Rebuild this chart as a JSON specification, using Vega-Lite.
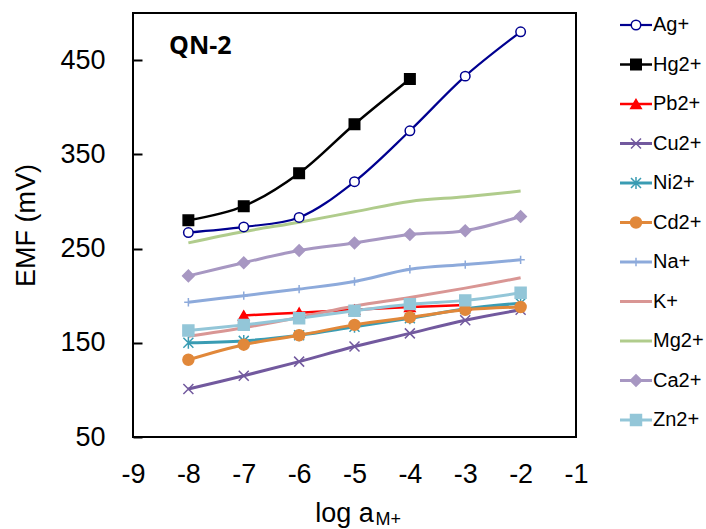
{
  "$schema": "https://vega.github.io/schema/vega-lite/v6.json",
  "background": "white",
  "padding": {"left": 11, "top": 12, "right": 0, "bottom": 0},
  "config": {"view": {"stroke": null}, "font": "Liberation Sans"},
  "datasets": {
    "d": [
      {"s": "Ag+", "x": -8, "y": 267}, {"s": "Ag+", "x": -7, "y": 273}, {"s": "Ag+", "x": -6, "y": 283}, {"s": "Ag+", "x": -5, "y": 321}, {"s": "Ag+", "x": -4, "y": 375}, {"s": "Ag+", "x": -3, "y": 433}, {"s": "Ag+", "x": -2, "y": 480},
      {"s": "Hg2+", "x": -8, "y": 280}, {"s": "Hg2+", "x": -7, "y": 295}, {"s": "Hg2+", "x": -6, "y": 330}, {"s": "Hg2+", "x": -5, "y": 382}, {"s": "Hg2+", "x": -4, "y": 430},
      {"s": "Pb2+", "x": -7, "y": 179}, {"s": "Pb2+", "x": -6, "y": 182}, {"s": "Pb2+", "x": -5, "y": 185}, {"s": "Pb2+", "x": -4, "y": 188}, {"s": "Pb2+", "x": -3, "y": 190},
      {"s": "Cu2+", "x": -8, "y": 101}, {"s": "Cu2+", "x": -7, "y": 115}, {"s": "Cu2+", "x": -6, "y": 130}, {"s": "Cu2+", "x": -5, "y": 146}, {"s": "Cu2+", "x": -4, "y": 160}, {"s": "Cu2+", "x": -3, "y": 174}, {"s": "Cu2+", "x": -2, "y": 185},
      {"s": "Ni2+", "x": -8, "y": 150}, {"s": "Ni2+", "x": -7, "y": 152}, {"s": "Ni2+", "x": -6, "y": 158}, {"s": "Ni2+", "x": -5, "y": 167}, {"s": "Ni2+", "x": -4, "y": 176}, {"s": "Ni2+", "x": -3, "y": 186}, {"s": "Ni2+", "x": -2, "y": 192},
      {"s": "Cd2+", "x": -8, "y": 132}, {"s": "Cd2+", "x": -7, "y": 148}, {"s": "Cd2+", "x": -6, "y": 158}, {"s": "Cd2+", "x": -5, "y": 169}, {"s": "Cd2+", "x": -4, "y": 177}, {"s": "Cd2+", "x": -3, "y": 185}, {"s": "Cd2+", "x": -2, "y": 188},
      {"s": "Na+", "x": -8, "y": 193}, {"s": "Na+", "x": -7, "y": 200}, {"s": "Na+", "x": -6, "y": 207}, {"s": "Na+", "x": -5, "y": 215}, {"s": "Na+", "x": -4, "y": 228}, {"s": "Na+", "x": -3, "y": 233}, {"s": "Na+", "x": -2, "y": 238},
      {"s": "K+", "x": -8, "y": 157}, {"s": "K+", "x": -7, "y": 166}, {"s": "K+", "x": -6, "y": 177}, {"s": "K+", "x": -5, "y": 189}, {"s": "K+", "x": -4, "y": 198}, {"s": "K+", "x": -3, "y": 208}, {"s": "K+", "x": -2, "y": 219},
      {"s": "Mg2+", "x": -8, "y": 256}, {"s": "Mg2+", "x": -7, "y": 268}, {"s": "Mg2+", "x": -6, "y": 278}, {"s": "Mg2+", "x": -5, "y": 289}, {"s": "Mg2+", "x": -4, "y": 300}, {"s": "Mg2+", "x": -3, "y": 305}, {"s": "Mg2+", "x": -2, "y": 311},
      {"s": "Ca2+", "x": -8, "y": 221}, {"s": "Ca2+", "x": -7, "y": 235}, {"s": "Ca2+", "x": -6, "y": 248}, {"s": "Ca2+", "x": -5, "y": 256}, {"s": "Ca2+", "x": -4, "y": 265}, {"s": "Ca2+", "x": -3, "y": 269}, {"s": "Ca2+", "x": -2, "y": 284},
      {"s": "Zn2+", "x": -8, "y": 163}, {"s": "Zn2+", "x": -7, "y": 169}, {"s": "Zn2+", "x": -6, "y": 176}, {"s": "Zn2+", "x": -5, "y": 184}, {"s": "Zn2+", "x": -4, "y": 191}, {"s": "Zn2+", "x": -3, "y": 195}, {"s": "Zn2+", "x": -2, "y": 203}
    ],
    "leg": [
      {"s": "Ag+"}, {"s": "Hg2+"}, {"s": "Pb2+"}, {"s": "Cu2+"}, {"s": "Ni2+"}, {"s": "Cd2+"}, {"s": "Na+"}, {"s": "K+"}, {"s": "Mg2+"}, {"s": "Ca2+"}, {"s": "Zn2+"}
    ]
  },
  "spacing": 8,
  "hconcat": [
    {
      "width": 443,
      "height": 424,
      "view": {"stroke": "black", "strokeWidth": 2},
      "layer": [
        {
          "data": {"name": "d"},
          "mark": {"type": "line", "interpolate": "catmull-rom"},
          "encoding": {
            "x": {"field": "x", "type": "quantitative",
              "scale": {"domain": [-9, -1], "nice": false, "zero": false},
              "axis": {"values": [-9, -8, -7, -6, -5, -4, -3, -2, -1], "labelExpr": "'' + datum.value", "ticks": false, "domain": false, "grid": false, "labelFlush": false, "labelOverlap": false, "labelFontSize": 27, "labelColor": "black", "labelPadding": 24, "title": "log a", "titleFontSize": 27, "titleFontWeight": "normal", "titleColor": "black", "titlePadding": 13, "titleX": 211}},
            "y": {"field": "y", "type": "quantitative",
              "scale": {"domain": [50, 500], "nice": false, "zero": false},
              "axis": {"values": [50, 150, 250, 350, 450], "grid": false, "domain": false, "tickSize": -9, "tickColor": "black", "tickWidth": 2, "labelFontSize": 27, "labelColor": "black", "labelPadding": 37, "title": "EMF (mV)", "titleFontSize": 27, "titleFontWeight": "normal", "titleColor": "black", "titlePadding": 19}},
            "stroke": {"field": "s", "type": "nominal", "legend": null,
              "scale": {"domain": ["Ag+", "Hg2+", "Pb2+", "Cu2+", "Ni2+", "Cd2+", "Na+", "K+", "Mg2+", "Ca2+", "Zn2+"],
                "range": ["#000090", "#000000", "#FF0000", "#72599E", "#3A9CB3", "#E1883A", "#8DAADB", "#D99694", "#B0CC8C", "#A797C2", "#93C6D8"]}},
            "strokeWidth": {"field": "s", "type": "nominal", "legend": null,
              "scale": {"type": "ordinal", "domain": ["Ag+", "Hg2+", "Pb2+", "Cu2+", "Ni2+", "Cd2+", "Na+", "K+", "Mg2+", "Ca2+", "Zn2+"],
                "range": [2.2, 2.5, 2.5, 3, 3, 3, 3, 3, 3, 3, 3]}}
          }
        },
        {
          "data": {"name": "d"},
          "mark": {"type": "point", "opacity": 1, "strokeWidth": 1.5},
          "encoding": {
            "x": {"field": "x", "type": "quantitative"},
            "y": {"field": "y", "type": "quantitative"},
            "stroke": {"field": "s", "type": "nominal", "legend": null},
            "fill": {"field": "s", "type": "nominal", "legend": null,
              "scale": {"domain": ["Ag+", "Hg2+", "Pb2+", "Cu2+", "Ni2+", "Cd2+", "Na+", "K+", "Mg2+", "Ca2+", "Zn2+"],
                "range": ["#FFFFFF", "#000000", "#FF0000", "transparent", "transparent", "#E1883A", "transparent", "transparent", "transparent", "#A797C2", "#93C6D8"]}},
            "shape": {"field": "s", "type": "nominal", "legend": null,
              "scale": {"domain": ["Ag+", "Hg2+", "Pb2+", "Cu2+", "Ni2+", "Cd2+", "Na+", "K+", "Mg2+", "Ca2+", "Zn2+"],
                "range": ["circle", "square", "triangle-up", "M-1,-1L1,1M-1,1L1,-1", "M-1,-1L1,1M-1,1L1,-1M0,-1.2L0,1.2", "circle", "M-1,0L1,0M0,-1L0,1", "circle", "circle", "diamond", "square"]}},
            "size": {"field": "s", "type": "nominal", "legend": null,
              "scale": {"type": "ordinal", "domain": ["Ag+", "Hg2+", "Pb2+", "Cu2+", "Ni2+", "Cd2+", "Na+", "K+", "Mg2+", "Ca2+", "Zn2+"],
                "range": [90, 110, 110, 100, 100, 120, 70, 0, 0, 130, 120]}}
          }
        },
        {
          "data": {"values": [{"label": "QN-2"}]},
          "mark": {"type": "text", "font": "Open Sans", "fontWeight": "bold", "fontSize": 25, "align": "left", "baseline": "alphabetic", "color": "black"},
          "encoding": {"x": {"datum": -8.35}, "y": {"datum": 457}, "text": {"field": "label"}}
        },
        {
          "data": {"values": [{"label": "M+"}]},
          "mark": {"type": "text", "fontSize": 18, "align": "left", "baseline": "alphabetic", "color": "black", "dy": 88},
          "encoding": {"x": {"datum": -4.62}, "y": {"datum": 50}, "text": {"field": "label"}}
        }
      ]
    },
    {
      "width": 109,
      "height": 424,
      "data": {"name": "leg"},
      "layer": [
        {
          "mark": {"type": "rule"},
          "encoding": {
            "x": {"datum": 22, "type": "quantitative", "scale": {"domain": [0, 109], "nice": false, "zero": false}, "axis": null},
            "x2": {"datum": 54},
            "y": {"field": "s", "type": "nominal", "axis": null,
              "scale": {"type": "point", "padding": 0, "range": [12, 407], "domain": ["Ag+", "Hg2+", "Pb2+", "Cu2+", "Ni2+", "Cd2+", "Na+", "K+", "Mg2+", "Ca2+", "Zn2+"]}},
            "stroke": {"field": "s", "type": "nominal", "legend": null,
              "scale": {"domain": ["Ag+", "Hg2+", "Pb2+", "Cu2+", "Ni2+", "Cd2+", "Na+", "K+", "Mg2+", "Ca2+", "Zn2+"],
                "range": ["#000090", "#000000", "#FF0000", "#72599E", "#3A9CB3", "#E1883A", "#8DAADB", "#D99694", "#B0CC8C", "#A797C2", "#93C6D8"]}},
            "strokeWidth": {"field": "s", "type": "nominal", "legend": null,
              "scale": {"type": "ordinal", "domain": ["Ag+", "Hg2+", "Pb2+", "Cu2+", "Ni2+", "Cd2+", "Na+", "K+", "Mg2+", "Ca2+", "Zn2+"],
                "range": [2.2, 2.5, 2.5, 3, 3, 3, 3, 3, 3, 3, 3]}}
          }
        },
        {
          "mark": {"type": "point", "opacity": 1, "strokeWidth": 1.5},
          "encoding": {
            "x": {"datum": 38, "type": "quantitative"},
            "y": {"field": "s", "type": "nominal"},
            "stroke": {"field": "s", "type": "nominal", "legend": null},
            "fill": {"field": "s", "type": "nominal", "legend": null,
              "scale": {"domain": ["Ag+", "Hg2+", "Pb2+", "Cu2+", "Ni2+", "Cd2+", "Na+", "K+", "Mg2+", "Ca2+", "Zn2+"],
                "range": ["#FFFFFF", "#000000", "#FF0000", "transparent", "transparent", "#E1883A", "transparent", "transparent", "transparent", "#A797C2", "#93C6D8"]}},
            "shape": {"field": "s", "type": "nominal", "legend": null,
              "scale": {"domain": ["Ag+", "Hg2+", "Pb2+", "Cu2+", "Ni2+", "Cd2+", "Na+", "K+", "Mg2+", "Ca2+", "Zn2+"],
                "range": ["circle", "square", "triangle-up", "M-1,-1L1,1M-1,1L1,-1", "M-1,-1L1,1M-1,1L1,-1M0,-1.2L0,1.2", "circle", "M-1,0L1,0M0,-1L0,1", "circle", "circle", "diamond", "square"]}},
            "size": {"field": "s", "type": "nominal", "legend": null,
              "scale": {"type": "ordinal", "domain": ["Ag+", "Hg2+", "Pb2+", "Cu2+", "Ni2+", "Cd2+", "Na+", "K+", "Mg2+", "Ca2+", "Zn2+"],
                "range": [90, 110, 110, 100, 100, 120, 70, 0, 0, 130, 120]}}
          }
        },
        {
          "mark": {"type": "text", "fontSize": 20, "align": "left", "baseline": "middle", "color": "black"},
          "encoding": {
            "x": {"datum": 55, "type": "quantitative"},
            "y": {"field": "s", "type": "nominal"},
            "text": {"field": "s"}
          }
        }
      ]
    }
  ]
}
